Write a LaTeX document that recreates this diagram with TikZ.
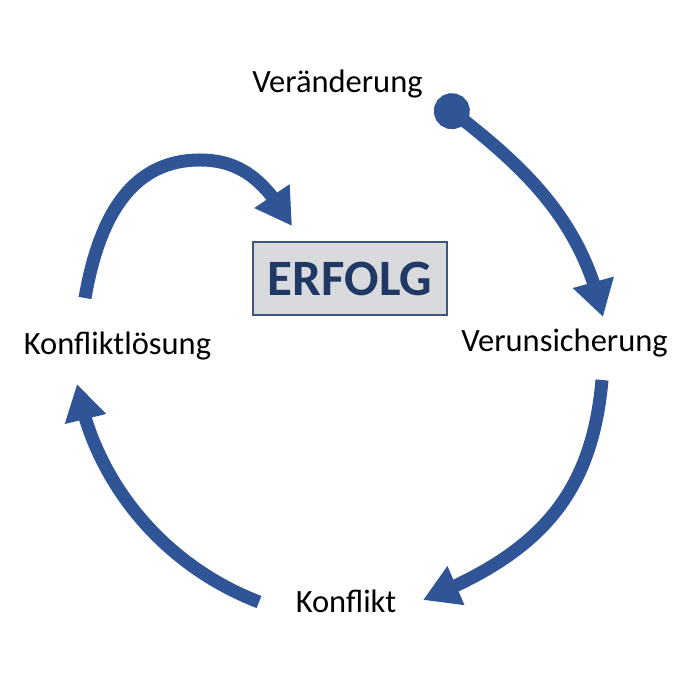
\documentclass[tikz,border=0pt]{standalone}
\usepackage{fontspec}
\setmainfont{Carlito}
\usetikzlibrary{arrows.meta,bending}
\definecolor{arrowblue}{HTML}{2F5597}
\definecolor{navy}{HTML}{1F3864}
\definecolor{boxgray}{HTML}{D9DADD}
\definecolor{boxline}{HTML}{3E5778}

\begin{document}
\begin{tikzpicture}[x=1pt,y=1pt,
        stage/.style={font=\fontsize{32.5}{38}\selectfont,inner sep=0pt,anchor=base},
        cycle/.style={draw=arrowblue,line width=13pt,-{Triangle[length=36pt,width=40pt]}}]
        \useasboundingbox (0,0) rectangle (675,676);
        \node[stage] (ver) at (337.5,583) {Veränderung};
        \node[stage] (unsich) at (564.5,324) {Verunsicherung};
        \node[stage] (konf) at (346,63) {Konflikt};
        \node[stage] (loes) at (117.5,321) {Konfliktlösung};
        \node[draw=boxline,fill=boxgray,line width=1.2pt,minimum width=194pt,minimum height=73pt,
              font=\bfseries\fontsize{51}{60}\selectfont,text=navy] (erfolg) at (350,397.5) {ERFOLG};
        % ends of the arrows
        \coordinate (ver-out) at (437.6,575.8);
        \coordinate (unsich-in) at (603,359);
        \coordinate (unsich-out) at (602,296);
        \coordinate (konf-in) at (423,76);
        \coordinate (konf-out) at (259,74);
        \coordinate (loes-in) at (77,292);
        \coordinate (loes-out) at (85,378);
        \coordinate (loes-top) at (200,516);
        \coordinate (erfolg-in) at (292,450);
        \draw [cycle,{Circle[length=36pt]}-{Triangle[length=36pt,width=40pt]}] (ver-out) .. controls (525.5,509.6) and (581.3,456.6) .. (unsich-in);
        \draw [cycle] (unsich-out) .. controls (591.6,176.5) and (534.2,121) .. (konf-in);
        \draw [cycle] (konf-out) .. controls (164.7,110.2) and (94.5,192.5) .. (loes-in);
        \draw [cycle] (loes-out) .. controls (100,465) and (135,516) .. (loes-top)
                      .. controls (245,516) and (268,490) .. (erfolg-in);
\end{tikzpicture}
\end{document}
